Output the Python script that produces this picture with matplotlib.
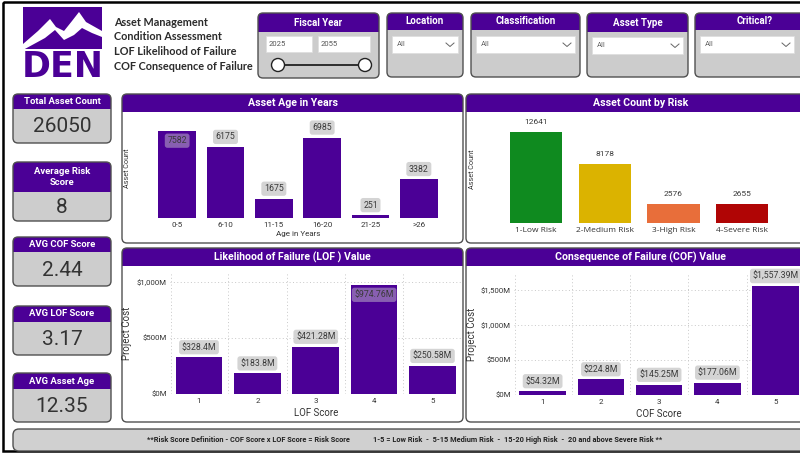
import numpy as np
import matplotlib.pyplot as plt
from matplotlib.patches import FancyBboxPatch, Rectangle, Polygon, Circle

plt.rcParams['font.family'] = ['Roboto', 'DejaVu Sans']

# ---- data ----
age_bins = ["0-5", "6-10", "11-15", "16-20", "21-25", ">26"]
age_counts = [7582, 6175, 1675, 6985, 251, 3382]

risk_cats = ["1-Low Risk", "2-Medium Risk", "3-High Risk", "4-Severe Risk"]
risk_counts = [12641, 8178, 2576, 2655]
risk_colors = ["#0f8a1f", "#dbb300", "#e86e3a", "#b00505"]

lof_scores = ["1", "2", "3", "4", "5"]
lof_values = [328.4, 183.8, 421.28, 974.76, 250.58]   # $M

cof_scores = ["1", "2", "3", "4", "5"]
cof_values = [54.32, 224.8, 145.25, 177.06, 1557.39]  # $M

kpi_titles = ["Total Asset Count", "Average Risk\nScore", "AVG COF Score", "AVG LOF Score", "AVG Asset Age"]
kpi_values = ["26050", "8", "2.44", "3.17", "12.35"]

filter_titles = ["Location", "Classification", "Asset Type", "Critical?"]
fiscal_years = ["2025", "2055"]

header_lines = ["Asset Management", "Condition Assessment",
                "LOF Likelihood of Failure", "COF Consequence of Failure"]

PURPLE = "#4b0096"
TXT = "#333333"
W, H = 800, 453

fig = plt.figure(figsize=(W / 100, H / 100), dpi=100)
bg = fig.add_axes([0, 0, 1, 1])
bg.set_xlim(0, W)
bg.set_ylim(H, 0)
bg.axis("off")


def card(x0, y0, x1, y1, hdr, body="white", r=5, title=None, tsize=7.5, ty=None):
    box = FancyBboxPatch((x0, y0), x1 - x0, y1 - y0, boxstyle=f"round,pad=0,rounding_size={r}",
                         facecolor=body, edgecolor="none", zorder=1)
    bg.add_patch(box)
    band = Rectangle((x0, y0), x1 - x0, hdr - y0, facecolor=PURPLE, edgecolor="none", zorder=2)
    band.set_clip_path(box)
    bg.add_patch(band)
    bg.add_patch(FancyBboxPatch((x0, y0), x1 - x0, y1 - y0, boxstyle=f"round,pad=0,rounding_size={r}",
                                facecolor="none", edgecolor="#505050", lw=1.0, zorder=3))
    if title:
        bg.text((x0 + x1) / 2, ty if ty else (y0 + hdr) / 2, title, color="white", fontsize=tsize,
                fontweight="bold", ha="center", va="center", zorder=4, linespacing=1.35)


# outer frame
bg.add_patch(Rectangle((3, 2), 810, 449, facecolor="none", edgecolor="black", lw=1.8, zorder=0))

# logo
bg.add_patch(Rectangle((23, 7), 79, 42, facecolor=PURPLE, edgecolor="none"))
bg.add_patch(Polygon([(23, 44), (38, 31), (50, 19), (56, 27), (64, 31), (72, 21), (79, 12), (86, 22),
                      (102, 31), (102, 37), (92, 33), (82, 28), (74, 35), (64, 40), (55, 30), (45, 38),
                      (23, 50)], closed=True, facecolor="white", edgecolor="none"))
bg.text(62.5, 67, "DEN", color=PURPLE, fontsize=25, fontweight="bold", ha="center", va="center",
        family="DejaVu Sans")

for i, line in enumerate(header_lines):
    bg.text(114, 22 + i * 14.7, line, fontsize=7.8, fontweight="bold", color="#2b2b2b",
            ha="left", va="center", family="Lato")

# fiscal year slicer
card(258, 13, 379, 78, 32, body="#cccccc", title="Fiscal Year", tsize=7)
for (bx0, bx1), yr in zip([(266, 312), (318, 370)], fiscal_years):
    bg.add_patch(Rectangle((bx0, 36), bx1 - bx0, 16, facecolor="white", edgecolor="#dddddd", lw=0.5, zorder=4))
    bg.text(bx0 + 3, 44, yr, fontsize=5.5, color="#555555", ha="left", va="center", zorder=5)
bg.plot([278, 365], [65, 65], color="#222222", lw=1.3, zorder=4)
for cx in (278, 365):
    bg.add_patch(Circle((cx, 65), 6.5, facecolor="white", edgecolor="#222222", lw=1.0, zorder=5))

# dropdown slicers
for (fx0, fx1, hb, dy), title in zip([(387, 463, 30, 36), (471, 580, 30, 36), (587, 688, 32, 37),
                                      (695, 815, 30, 36)], filter_titles):
    card(fx0, 13, fx1, 77, hb, body="#cccccc", title=title, tsize=7)
    dx0, dx1 = fx0 + 5, min(fx1 - 5, 794)
    bg.add_patch(Rectangle((dx0, dy), dx1 - dx0, 17, facecolor="white", edgecolor="#dddddd", lw=0.5, zorder=4))
    bg.text(dx0 + 5, dy + 8, "All", fontsize=5.5, color="#666666", ha="left", va="center", zorder=5)
    cx = dx1 - 8
    bg.plot([cx - 4, cx, cx + 4], [dy + 7, dy + 10.5, dy + 7], color="#666666", lw=0.7, zorder=5)

# KPI cards
kpi_boxes = [(94, 143, 109), (162, 221, 192), (237, 286, 252), (306, 355, 322), (373, 422, 389)]
for (y0, y1, hb), t, v in zip(kpi_boxes, kpi_titles, kpi_values):
    card(13, y0, 111, y1, hb, body="#cdcdcd", title=t, tsize=6.8)
    bg.text(62, (hb + y1) / 2 + 1, v, fontsize=15, color=TXT, ha="center", va="center", zorder=4)

# chart panels
card(122, 94, 463, 243, 112, title="Asset Age in Years", tsize=7.6)
card(466, 94, 815, 243, 112, title="Asset Count by Risk", tsize=7.6, ty=103)
card(122, 248, 463, 422, 266, title="Likelihood of Failure (LOF ) Value", tsize=7.6)
card(466, 248, 815, 422, 266, title="Consequence of Failure (COF) Value", tsize=7.6)

# footer
card(13, 429, 815, 451, 429, body="#d0d0d0", r=6)
bg.text(248, 440, "**Risk Score Definition - COF Score x LOF Score = Risk Score", fontsize=5.3,
        fontweight="bold", color="#222222", ha="center", va="center", zorder=4)
bg.text(518, 440, "1-5 = Low Risk  -  5-15 Medium Risk  -  15-20 High Risk  -  20 and above Severe Risk **",
        fontsize=5.3, fontweight="bold", color="#222222", ha="center", va="center", zorder=4)


def px_axes(x0, y0, x1, y1):
    ax = fig.add_axes([x0 / W, 1 - y1 / H, (x1 - x0) / W, (y1 - y0) / H])
    ax.set_facecolor("none")
    for s in ax.spines.values():
        s.set_visible(False)
    ax.tick_params(length=0)
    return ax


def value_labels(ax, vals, fmt, inside_idx=None, box=True, size=6.3):
    for i, v in enumerate(vals):
        inside = (i == inside_idx)
        kw = dict(boxstyle="round,pad=0.3,rounding_size=0.3", facecolor="#d4d4d4",
                  edgecolor="none", alpha=0.45 if inside else 1.0) if box else None
        ax.annotate(fmt(v), (i, v), xytext=(0, -7.2 if inside else 7.2), textcoords="offset points",
                    ha="center", va="center", fontsize=size, color="#3a3a3a", bbox=kw, zorder=5)


# Asset age
ax1 = px_axes(153, 118, 443, 218)
x = np.arange(len(age_bins))
ax1.bar(x, age_counts, width=0.78, color=PURPLE)
ax1.set_xlim(-0.5, len(age_bins) - 0.5)
ax1.set_ylim(0, 8685)
ax1.set_yticks([])
ax1.set_xticks(x, age_bins, fontsize=5.8, color="#333333")
ax1.tick_params(axis="x", pad=3)
ax1.set_xlabel("Age in Years", fontsize=5.8, color="#333333", labelpad=2)
ax1.set_ylabel("Asset Count", fontsize=5.2, color="#333333")
ax1.yaxis.set_label_coords(-0.076, 0.5)
value_labels(ax1, age_counts, lambda v: f"{v}", inside_idx=int(np.argmax(age_counts)))

# Asset count by risk
ax2 = px_axes(501.6, 116, 776.5, 223)
x = np.arange(len(risk_cats))
ax2.bar(x, risk_counts, width=0.76, color=risk_colors)
ax2.set_xlim(-0.5, len(risk_cats) - 0.5)
ax2.set_ylim(0, 107 / 91 * 12641)
ax2.set_yticks([])
ax2.set_xticks(x, risk_cats, fontsize=6, color="#333333", family="Open Sans")
ax2.tick_params(axis="x", pad=3)
ax2.set_ylabel("Asset Count", fontsize=5.2, color="#333333")
ax2.yaxis.set_label_coords(-0.093, 0.5)
value_labels(ax2, risk_counts, lambda v: f"{v}", box=False, size=6)


def money(v):
    return f"${v:,.2f}M".replace(".00M", "M") if round(v, 1) != v else f"${v:,.1f}M"


def cost_chart(ax, cats, vals, ymax, yticks, xlabel, ylab_x):
    x = np.arange(len(cats))
    ax.bar(x, vals, width=0.8, color=PURPLE, zorder=3)
    ax.set_xlim(-0.5, len(cats) - 0.5)
    ax.set_ylim(0, ymax)
    ax.set_yticks(yticks, [f"${t:,.0f}M" for t in yticks], fontsize=5.6, color="#333333")
    ax.set_xticks(x, cats, fontsize=5.8, color="#333333")
    ax.tick_params(axis="x", pad=3)
    ax.tick_params(axis="y", pad=2)
    ax.grid(axis="y", linestyle=(0, (1, 2.5)), color="#c8c8c8", lw=0.7, zorder=0)
    for b in x[:-1] + 0.5:
        ax.axvline(b, linestyle=(0, (1, 2.5)), color="#c8c8c8", lw=0.7, zorder=0)
    ax.axvline(-0.5 + 0.02, linestyle=(0, (1, 2.5)), color="#c8c8c8", lw=0.7, zorder=0)
    ax.set_xlabel(xlabel, fontsize=7, color="#333333", labelpad=3)
    ax.set_ylabel("Project Cost", fontsize=7, color="#333333")
    ax.yaxis.set_label_coords(ylab_x, 0.5)


# LOF
ax3 = px_axes(169.8, 273, 461.7, 394)
cost_chart(ax3, lof_scores, lof_values, 121 / 0.112, [0, 500, 1000], "LOF Score", -0.129)
value_labels(ax3, lof_values, money, inside_idx=int(np.argmax(lof_values)))

# COF
ax4 = px_axes(513.5, 273, 804.8, 395)
cost_chart(ax4, cof_scores, cof_values, 122 / 0.07, [0, 500, 1000, 1500], "COF Score", -0.126)
value_labels(ax4, cof_values, money)

fig.savefig("out.png", dpi=100)
